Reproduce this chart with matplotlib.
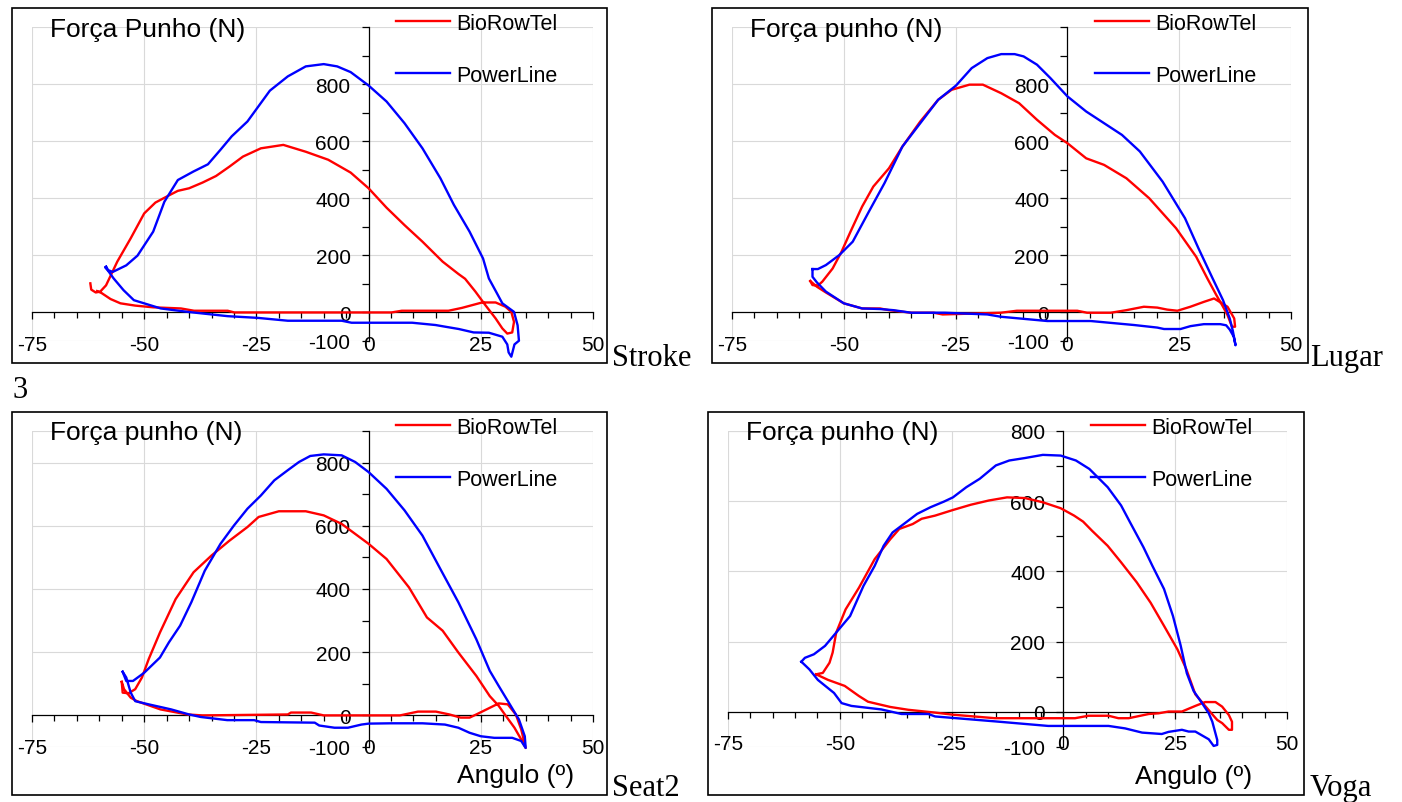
import numpy as np
import matplotlib
matplotlib.use("Agg")
import matplotlib.pyplot as plt
from matplotlib.patches import Rectangle
from matplotlib.ticker import FixedLocator, MultipleLocator

plt.rcParams['font.family'] = ['Liberation Sans', 'DejaVu Sans']
plt.rcParams['axes.unicode_minus'] = False

# (angle, force) traced along each loop: drive first, then recovery
stroke_bio = [(-62, 102), (-61.8, 80), (-60.8, 70), (-59.8, 73), (-58.5, 95), (-56, 178), (-53, 260),
              (-50, 347), (-47.5, 385), (-44.5, 410), (-42.5, 426), (-40, 435), (-37, 455), (-34, 478),
              (-31, 511), (-28, 546), (-24, 575), (-19, 587), (-14, 563), (-9, 535), (-4, 490), (0, 435),
              (4, 367), (8, 306), (12, 248), (16.5, 178), (20, 135), (21.5, 118), (23.8, 73), (26, 26),
              (28.3, -21), (29.8, -56), (30.9, -74), (32, -70), (32.4, -33), (31.8, 2), (30.5, 20),
              (28.3, 35), (25.3, 35), (20.8, 16), (17.8, 6), (7.4, 6), (5.1, 0), (-29.9, 0), (-31.4, 6),
              (-38.9, 6), (-41.8, 14), (-48, 18), (-52, 24), (-55.3, 32), (-57.5, 47), (-59.5, 68),
              (-60.5, 75)]
stroke_pl = [(-58.5, 160), (-58, 148), (-57, 142), (-54, 165), (-51.5, 199), (-48, 283), (-45.5, 388),
             (-42.5, 464), (-39, 494), (-35.8, 519), (-33, 570), (-30.5, 617), (-27, 669), (-22, 777),
             (-18, 827), (-14, 862), (-10, 870), (-7, 862), (-4, 842), (0, 795), (4, 739), (8, 663),
             (12, 575), (16, 470), (19, 377), (22.5, 283), (25.5, 189), (26.8, 119), (28.5, 70),
             (29.8, 32), (32.4, 2), (33.2, -45), (33.5, -99), (32.5, -112), (31.8, -155), (31.2, -140),
             (30.9, -112), (29.8, -85), (26.8, -71), (23.4, -70), (20.1, -58), (17.1, -50), (14.9, -44),
             (9.7, -36), (-3.8, -36), (-6, -29), (-18, -29), (-24.7, -19), (-31.4, -13), (-40.3, 2),
             (-46.3, 14), (-52.3, 43), (-54.6, 78), (-56.8, 119), (-58, 145), (-58.7, 158), (-58.5, 160)]

lugar_bio = [(-57.5, 110), (-57, 96), (-55.8, 94), (-54.8, 108), (-52.5, 154), (-50.5, 213), (-48.5, 283),
             (-45.9, 371), (-43.4, 441), (-39.9, 505), (-36.9, 581), (-32.9, 669), (-28.9, 745),
             (-25.9, 780), (-21.9, 798), (-18.9, 798), (-14.8, 768), (-10.8, 733), (-6.8, 675),
             (-2.8, 622), (0, 593), (4.2, 540), (8.2, 517), (13.2, 470), (18.3, 400), (24.3, 295),
             (28.8, 195), (31.3, 119), (33.3, 61), (34.8, 20), (35.8, -9), (36.8, -50), (37.5, -50),
             (37.3, -21), (35.8, 20), (32.8, 49), (30.5, 37), (27.5, 20), (24.6, 6), (22.3, 10),
             (20.1, 17), (17.1, 20), (13.2, 8), (9.7, -1), (4.4, -1), (2.2, 6), (-11.3, 6), (-14.9, -1),
             (-27.9, -7), (-29.9, -1), (-34.9, -1), (-39.9, 8), (-41.9, 14), (-45.9, 14), (-50, 32),
             (-54, 70), (-56, 90), (-57.5, 110)]
lugar_pl = [(-57, 152), (-55.8, 152), (-54, 166), (-51, 201), (-48, 248), (-44.4, 353), (-40.9, 453),
            (-36.9, 581), (-32.9, 663), (-28.9, 745), (-24.9, 795), (-21.4, 856), (-17.9, 891),
            (-14.8, 905), (-11.8, 905), (-9.8, 897), (-6.8, 868), (-3.8, 821), (0, 757), (4.2, 704),
            (8.2, 663), (12.2, 622), (16.2, 564), (21.3, 458), (26.3, 330), (29.3, 225), (32.3, 125),
            (34.8, 43), (36.3, -21), (37, -65), (37.6, -115), (37.2, -85), (36.3, -60), (35.5, -45),
            (34.2, -41), (30.5, -41), (27.5, -48), (25.3, -58), (21.6, -58), (20.1, -53), (14.9, -44),
            (5.2, -30), (-4.5, -30), (-14.9, -15), (-17.9, -7), (-27.4, -1), (-34.9, -1), (-38.9, 8),
            (-41.9, 12), (-45.9, 14), (-50, 32), (-54, 73), (-56, 105), (-57, 125), (-57, 152)]

seat_bio = [(-55, 106), (-54.8, 72), (-53.5, 70), (-52, 83), (-50.5, 120), (-49, 178), (-46.5, 262),
            (-43, 368), (-39, 453), (-35, 506), (-31, 553), (-27, 596), (-24.5, 628), (-20, 646),
            (-14, 646), (-10, 633), (-6, 606), (-2, 564), (0, 543), (4, 495), (9, 405), (13, 310),
            (16.5, 268), (20, 199), (24, 125), (27, 61), (29, 30), (30.5, 0), (32.5, -39), (34, -76),
            (35, -103), (34, -44), (32.8, 3), (31, 35), (29, 38), (27, 24), (24, 3), (22.5, -7),
            (20.5, -7), (18, 3), (15, 12), (11, 12), (7, 0), (-10, 0), (-12.8, 9), (-17.3, 9), (-18, 3),
            (-37, 0), (-40.4, 3), (-46.4, 19), (-51.6, 45), (-53, 56), (-54.5, 83), (-55, 106)]
seat_pl = [(-54.8, 138), (-54, 109), (-52.5, 109), (-50, 135), (-46.5, 183), (-44.5, 231), (-42, 284),
           (-39.5, 358), (-36.5, 458), (-33, 543), (-30, 601), (-27, 654), (-24, 696), (-21, 744),
           (-18, 776), (-15.5, 802), (-13, 821), (-10, 826), (-6, 823), (-3, 802), (0, 770), (4, 717),
           (8, 649), (12, 569), (16, 463), (20, 358), (24, 241), (27, 141), (29, 93), (31, 46),
           (33.5, -13), (34.8, -66), (35, -103), (34, -81), (32, -71), (28, -71), (25, -66),
           (22.5, -55), (20, -39), (17, -29), (12, -25), (5, -25), (0, -26), (-1.6, -29), (-4.6, -39),
           (-7.6, -39), (-11, -32), (-12, -23), (-24, -21), (-25.5, -15), (-31.5, -15), (-37.4, -5),
           (-40, 3), (-44, 19), (-49, 35), (-52, 45), (-53, 72), (-54, 120), (-54.8, 138)]

voga_bio = [(-55.3, 107), (-53.8, 111), (-52.3, 140), (-51.6, 169), (-50.8, 226), (-48.7, 292),
            (-45.7, 354), (-42.2, 435), (-38.7, 492), (-36.7, 521), (-33.7, 535), (-31.7, 550),
            (-28.7, 559), (-24.7, 575), (-20.7, 590), (-16.7, 602), (-12.6, 611), (-8.6, 609),
            (-4.6, 597), (-0.6, 580), (2.4, 559), (4.4, 542), (6.4, 516), (9.9, 473), (12.9, 426),
            (16.4, 369), (19.5, 311), (22.5, 245), (25.5, 178), (27.5, 121), (29.5, 50), (31.5, 20),
            (33.5, -10), (34.4, -23), (35.5, -32), (37, -51), (37.7, -51), (37.7, -28), (37, -9),
            (35.5, 15), (34, 28), (31.7, 28), (29.5, 17), (26.5, 1), (23.5, 1), (21.3, -4), (19.1, -6),
            (14.6, -18), (12.3, -18), (10.1, -11), (5.6, -11), (2.6, -18), (-15.3, -18), (-24.7, -8),
            (-28.7, -2), (-34.7, 6), (-38.7, 14), (-43.7, 29), (-45.7, 45), (-48.9, 74), (-52.6, 91),
            (-55.3, 107)]
voga_pl = [(-58.6, 143), (-57.8, 154), (-55.8, 164), (-53.3, 188), (-50.8, 226), (-47.7, 273),
           (-44.7, 359), (-42.2, 416), (-40.2, 473), (-38.2, 511), (-35.7, 535), (-32.7, 564),
           (-29.7, 583), (-26.7, 599), (-24.7, 611), (-21.7, 640), (-18.7, 664), (-15.1, 702),
           (-12.1, 716), (-8.6, 723), (-4.6, 732), (-0.6, 730), (2.8, 716), (5.8, 692), (9.9, 640),
           (12.9, 588), (14.9, 540), (17.9, 469), (19.9, 416), (22.5, 350), (24.5, 273), (26.2, 190),
           (27.6, 110), (29.1, 60), (31, 25), (32.5, -4), (33.3, -28), (34.4, -80), (34.4, -94),
           (33.6, -97), (32.5, -78), (29.5, -56), (28, -56), (26.5, -51), (23.5, -57), (22, -63),
           (17.6, -59), (13.8, -47), (10.1, -40), (-3.4, -40), (-15.3, -27), (-28.7, -13), (-30.2, -6),
           (-36.2, -6), (-40.7, 7), (-47.4, 17), (-49.6, 25), (-51.3, 54), (-54.9, 91), (-56.8, 121),
           (-58.6, 143)]

x_major = [-75, -50, -25, 0, 25, 50]
y_labelled = [-100, 0, 200, 400, 600, 800]
series_names = ['BioRowTel', 'PowerLine']

W, H = 1402, 803
fig = plt.figure(figsize=(W / 100, H / 100), dpi=100)


def fx(x):
    return x / W


def fy(y):
    return 1 - y / H


panels = [
    dict(side='Stroke', title='Força Punho (N)', bio=stroke_bio, pl=stroke_pl, top=1000,
         plot=(32, 28, 593, 342), frame=(12, 9, 607, 364), leg=(396, 14), title_xy=(50, 37),
         side_xy=(612, 366), xlabel_xy=None),
    dict(side='Lugar', title='Força punho (N)', bio=lugar_bio, pl=lugar_pl, top=1000,
         plot=(732, 28, 1291, 342), frame=(712, 9, 1308, 364), leg=(1095, 14), title_xy=(750, 37),
         side_xy=(1310, 366), xlabel_xy=None),
    dict(side='Seat2', title='Força punho (N)', bio=seat_bio, pl=seat_pl, top=900,
         plot=(32, 432, 593, 748), frame=(12, 413, 607, 796), leg=(396, 418), title_xy=(50, 440),
         side_xy=(612, 796), xlabel_xy=(457, 783)),
    dict(side='Voga', title='Força punho (N)', bio=voga_bio, pl=voga_pl, top=800,
         plot=(728, 432, 1287, 748), frame=(708, 413, 1304, 796), leg=(1091, 418), title_xy=(746, 440),
         side_xy=(1310, 796), xlabel_xy=(1135, 784)),
]

grid_c = '#d9d9d9'
for p in panels:
    x0, y0, x1, y1 = p['plot']
    ax = fig.add_axes([fx(x0), fy(y1), (x1 - x0) / W, (y1 - y0) / H])
    ax.patch.set_alpha(0)
    ax.set_xlim(-75, 50)
    ax.set_ylim(-100, p['top'])

    for s in ['top', 'right']:
        ax.spines[s].set_visible(False)
    ax.spines['left'].set_position(('data', 0))
    ax.spines['bottom'].set_position(('data', 0))
    for s in ['left', 'bottom']:
        ax.spines[s].set_linewidth(0.9)

    # gridlines
    for xv in x_major:
        if xv != 0:
            ax.axvline(xv, color=grid_c, lw=0.8, zorder=0)
    for yv in y_labelled[:1] + y_labelled[2:] + [p['top']]:
        ax.axhline(yv, color=grid_c, lw=0.8, zorder=0)

    ax.xaxis.set_major_locator(FixedLocator(x_major))
    ax.xaxis.set_minor_locator(MultipleLocator(5))
    ax.set_xticklabels([str(v) for v in x_major])
    yt = [v for v in y_labelled if v <= p['top']]
    ax.yaxis.set_major_locator(FixedLocator(yt))
    ax.yaxis.set_minor_locator(MultipleLocator(100))
    ax.set_yticklabels([str(v) for v in yt])
    ax.tick_params(axis='x', which='major', direction='out', length=5, width=0.9, pad=11, labelsize=15)
    ax.tick_params(axis='x', which='minor', direction='out', length=4, width=0.9)
    ax.tick_params(axis='y', which='major', direction='out', length=5, width=0.9, pad=8, labelsize=15)
    ax.tick_params(axis='y', which='minor', direction='out', length=5, width=0.9)

    bio = np.array(p['bio'])
    pl = np.array(p['pl'])
    l1, = ax.plot(bio[:, 0], bio[:, 1], color='#ff0000', lw=1.7, clip_on=False, zorder=3,
                  label=series_names[0])
    l2, = ax.plot(pl[:, 0], pl[:, 1], color='#0000ff', lw=1.7, clip_on=False, zorder=3,
                  label=series_names[1])

    lx, ly = p['leg']
    ax.legend(handles=[l1, l2], loc='upper left', bbox_to_anchor=(fx(lx), fy(ly)),
              bbox_transform=fig.transFigure, frameon=False, fontsize=15.5, borderpad=0,
              borderaxespad=0, handlelength=2.5, handletextpad=0.3, labelspacing=1.42)

    tx, ty = p['title_xy']
    fig.text(fx(tx), fy(ty), p['title'], fontsize=19, ha='left', va='baseline')
    if p['xlabel_xy']:
        ax_x, ax_y = p['xlabel_xy']
        fig.text(fx(ax_x), fy(ax_y), 'Angulo (º)', fontsize=19, ha='left', va='baseline')

    fx0, fy0, fx1, fy1 = p['frame']
    fig.add_artist(Rectangle((fx(fx0), fy(fy1)), (fx1 - fx0) / W, (fy1 - fy0) / H,
                             transform=fig.transFigure, fill=False, ec='black', lw=1.2))
    sx, sy = p['side_xy']
    fig.text(fx(sx), fy(sy), p['side'], family='Liberation Serif', fontsize=22,
             ha='left', va='baseline')

fig.text(fx(12), fy(398), '3', family='Liberation Serif', fontsize=22, ha='left', va='baseline')

fig.savefig('out.png', dpi=100)
